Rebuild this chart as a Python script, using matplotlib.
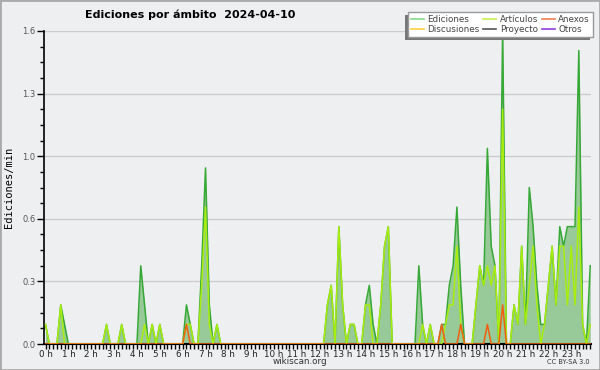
import matplotlib
matplotlib.use("Agg")
import matplotlib.pyplot as plt
from matplotlib.lines import Line2D
from matplotlib.patches import Rectangle
import numpy as np

# edits/min per 10-minute bin, one row per hour
ediciones = [
    0.1, 0, 0, 0, 0.2, 0.1,      # 0h
    0, 0, 0, 0, 0, 0,            # 1h
    0, 0, 0, 0, 0.1, 0,          # 2h
    0, 0, 0.1, 0, 0, 0,          # 3h
    0, 0.4, 0.2, 0, 0.1, 0,      # 4h
    0.1, 0, 0, 0, 0, 0,          # 5h
    0, 0.2, 0.1, 0, 0, 0.4,      # 6h
    0.9, 0.2, 0, 0.1, 0, 0,      # 7h
    0, 0, 0, 0, 0, 0,            # 8h
    0, 0, 0, 0, 0, 0,            # 9h
    0, 0, 0, 0, 0, 0,            # 10h
    0, 0, 0, 0, 0, 0,            # 11h
    0, 0, 0.2, 0.3, 0, 0.6,      # 12h
    0.2, 0, 0.1, 0.1, 0, 0,      # 13h
    0.2, 0.3, 0.1, 0, 0.2, 0.5,  # 14h
    0.6, 0, 0, 0, 0, 0,          # 15h
    0, 0, 0.4, 0.1, 0, 0.1,      # 16h
    0, 0, 0.1, 0.1, 0.3, 0.4,    # 17h
    0.7, 0.3, 0, 0, 0, 0.2,      # 18h
    0.4, 0.3, 1.0, 0.5, 0.4, 0,  # 19h
    1.6, 0, 0, 0.2, 0.1, 0.5,    # 20h
    0.1, 0.8, 0.6, 0.3, 0.1, 0.1,  # 21h
    0.3, 0.5, 0.2, 0.6, 0.5, 0.6,  # 22h
    0.6, 0.6, 1.5, 0.1, 0, 0.4,    # 23h
]

articulos = [
    0.1, 0, 0, 0, 0.2, 0,
    0, 0, 0, 0, 0, 0,
    0, 0, 0, 0, 0.1, 0,
    0, 0, 0.1, 0, 0, 0,
    0, 0, 0.1, 0, 0.1, 0,
    0.1, 0, 0, 0, 0, 0,
    0, 0.1, 0.1, 0, 0, 0.3,
    0.7, 0.1, 0, 0.1, 0, 0,
    0, 0, 0, 0, 0, 0,
    0, 0, 0, 0, 0, 0,
    0, 0, 0, 0, 0, 0,
    0, 0, 0, 0, 0, 0,
    0, 0, 0.2, 0.3, 0, 0.6,
    0.2, 0, 0.1, 0.1, 0, 0,
    0.2, 0.2, 0, 0, 0.2, 0.5,
    0.6, 0, 0, 0, 0, 0,
    0, 0, 0, 0.1, 0, 0.1,
    0, 0, 0, 0.1, 0.2, 0.2,
    0.5, 0.1, 0, 0, 0, 0.2,
    0.4, 0.3, 0.4, 0.3, 0.4, 0,
    1.2, 0, 0, 0.2, 0.1, 0.5,
    0.1, 0.3, 0.5, 0.2, 0, 0.1,
    0.3, 0.5, 0.2, 0.5, 0.5, 0.2,
    0.5, 0.2, 0.7, 0.1, 0, 0.1,
]

anexos = [
    0, 0, 0, 0, 0, 0,
    0, 0, 0, 0, 0, 0,
    0, 0, 0, 0, 0, 0,
    0, 0, 0, 0, 0, 0,
    0, 0, 0, 0, 0, 0,
    0, 0, 0, 0, 0, 0,
    0, 0.1, 0, 0, 0, 0,
    0, 0, 0, 0, 0, 0,
    0, 0, 0, 0, 0, 0,
    0, 0, 0, 0, 0, 0,
    0, 0, 0, 0, 0, 0,
    0, 0, 0, 0, 0, 0,
    0, 0, 0, 0, 0, 0,
    0, 0, 0, 0, 0, 0,
    0, 0, 0, 0, 0, 0,
    0, 0, 0, 0, 0, 0,
    0, 0, 0, 0, 0, 0,
    0, 0, 0.1, 0, 0, 0,
    0, 0.1, 0, 0, 0, 0,
    0, 0, 0.1, 0, 0, 0,
    0.2, 0, 0, 0, 0, 0,
    0, 0, 0, 0, 0, 0,
    0, 0, 0, 0, 0, 0,
    0, 0, 0, 0, 0, 0,
]

hours = list(range(24))
hour_labels = ["%d h" % h for h in hours]
yticks = [0, 0.32, 0.64, 0.96, 1.28, 1.6]

legend_names = ["Ediciones", "Discusiones", "Artículos", "Proyecto", "Anexos", "Otros"]
legend_colors = ["#88d888", "#ffd040", "#c8f050", "#555555", "#f08050", "#9040e0"]

bg = "#eeeff1"
t = np.arange(len(ediciones)) / 6.0

fig = plt.figure(figsize=(6, 3.7), dpi=100, facecolor=bg)
ax = fig.add_axes([44/600, 26/370, 547/600, 313/370], facecolor=bg)

ax.fill_between(t, ediciones, color="#98c998", lw=0, zorder=2)
ax.plot(t, ediciones, color="#36a836", lw=1.1, zorder=3)
ax.plot(t, articulos, color="#a8ec10", lw=1.1, zorder=4)
ax.plot(t, anexos, color="#ee6010", lw=1.1, zorder=5)

ax.set_xlim(-0.4/6, 143.2/6)
ax.set_ylim(0, 1.6)

ax.set_xticks(hours)
ax.set_xticklabels(hour_labels)
ax.set_xticks(np.arange(0, 144) / 6.0, minor=True)
ax.set_yticks(yticks)
ax.set_yticklabels(["%.1f" % v for v in yticks])
ax.set_yticks(np.arange(0, 1.61, 0.08), minor=True)

ax.tick_params(axis="x", which="both", direction="out", length=3.5, width=1,
               labelsize=6.3, pad=0.5)
ax.tick_params(axis="y", which="major", direction="out", length=5, width=1,
               labelsize=6, pad=1)
ax.tick_params(axis="y", which="minor", direction="out", length=3, width=1)
for lab in ax.get_yticklabels():
    lab.set_color("#555555")
for lab in ax.get_xticklabels():
    lab.set_color("#222222")

ax.grid(axis="y", color="#cccccc", lw=1)
ax.set_axisbelow(True)
for s in ["top", "right"]:
    ax.spines[s].set_visible(False)
ax.spines["left"].set_linewidth(1.2)
ax.spines["bottom"].set_linewidth(1.5)

ax.set_ylabel("Ediciones/min", family="DejaVu Sans Mono", fontsize=7.5, labelpad=6)

fig.text(85/600, 1 - 15/370, "Ediciones por ámbito  2024-04-10", fontsize=8,
         fontweight="bold", va="center", ha="left")
fig.text(300/600, 1 - 362/370, "wikiscan.org", fontsize=6.3, ha="center",
         va="center", color="#333333")
fig.text(590/600, 1 - 362/370, "CC BY-SA 3.0", fontsize=4.8, ha="right",
         va="center", color="#333333")

handles = [Line2D([], [], color=c, lw=1.2) for c in legend_colors]
leg = fig.legend(handles, legend_names, ncol=3, loc="upper right",
                 bbox_to_anchor=(593/600, 1 - 12/370), borderaxespad=0,
                 fontsize=6.3, handlelength=1.5, handletextpad=0.4,
                 columnspacing=0.4, labelspacing=0.1, borderpad=0.35,
                 fancybox=False, framealpha=1, edgecolor="#999999")
leg.get_frame().set_linewidth(1)
leg.set_zorder(10)
for txt in leg.get_texts():
    txt.set_color("#444444")

fig.canvas.draw()
bb = leg.get_window_extent().transformed(fig.transFigure.inverted())
fig.patches.append(Rectangle((bb.x0 - 3/600, bb.y0 - 3/370), bb.width, bb.height,
                             transform=fig.transFigure, facecolor="#777777",
                             edgecolor="none", zorder=9))

fig.patches.append(Rectangle((0, 0), 1, 1, transform=fig.transFigure,
                             fill=False, edgecolor="#aaaaaa", lw=2, zorder=20))

fig.savefig("out.png", dpi=100, facecolor=bg)
